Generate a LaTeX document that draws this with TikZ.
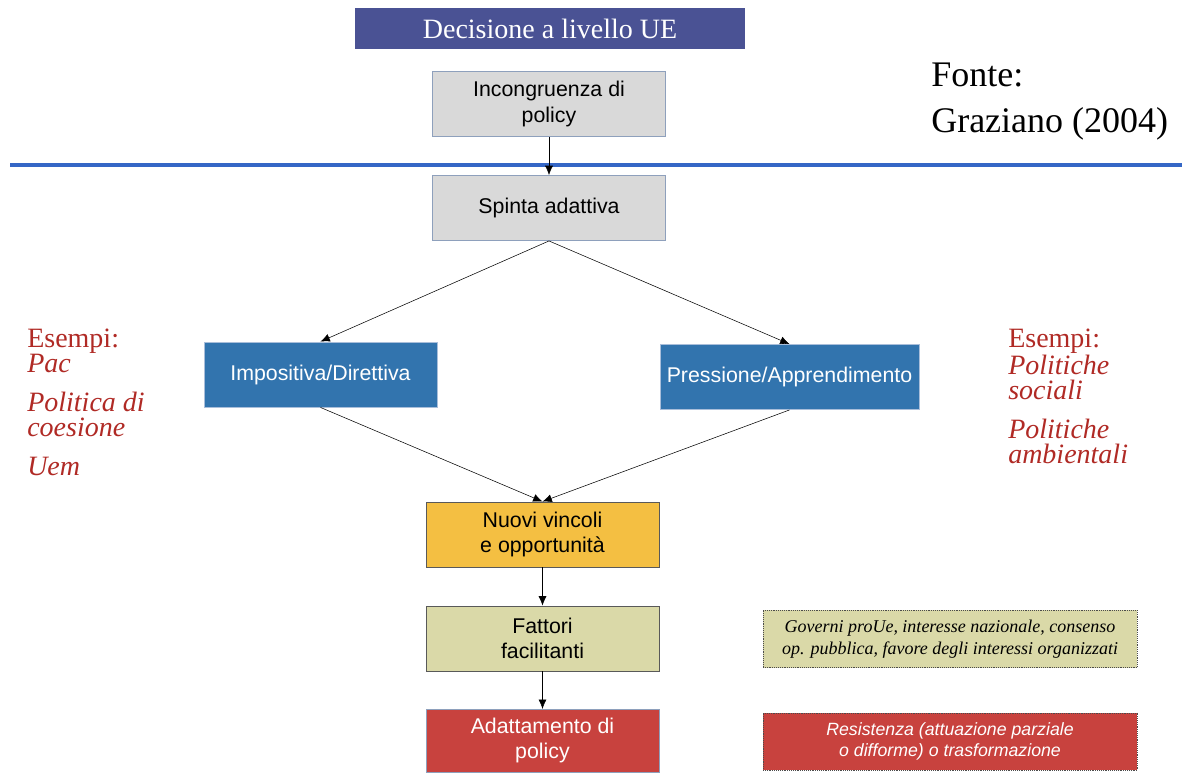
\documentclass[tikz,border=0pt]{standalone}
\usepackage{fontspec}
\setmainfont{Liberation Serif}
\setsansfont{Liberation Sans}
\usetikzlibrary{arrows.meta}

\definecolor{titleblue}{HTML}{4A5294}
\definecolor{boxgray}{HTML}{D9D9D9}
\definecolor{grayedge}{HTML}{8EA0BC}
\definecolor{boxblue}{HTML}{3274AE}
\definecolor{blueedge}{HTML}{A9BEDA}
\definecolor{boxorange}{HTML}{F4BF42}
\definecolor{boxolive}{HTML}{DAD9A8}
\definecolor{boxred}{HTML}{C8423E}
\definecolor{exred}{HTML}{B02A25}
\definecolor{rulerblue}{HTML}{3567C6}

\begin{document}
\begin{tikzpicture}[x=0.75pt,y=-0.75pt,
  box/.style={draw, rectangle, minimum width=175pt, minimum height=49pt,
    align=center, inner sep=2pt, font=\sffamily\fontsize{16}{19}\selectfont},
  graybox/.style={box, fill=boxgray, draw=grayedge},
  bluebox/.style={box, fill=boxblue, draw=blueedge, text=white},
  notebox/.style={draw=black!70, densely dotted, rectangle, minimum width=280.5pt,
    minimum height=43pt, align=center, inner sep=2pt},
  example/.style={anchor=north west, align=left, inner sep=0pt, text=exred,
    font=\fontsize{21}{18.5}\selectfont},
  link/.style={-{Latex[length=7pt,width=6pt]}, black}]
  \useasboundingbox (0,0) rectangle (1182,772);

  % Title and source
  \node[fill=titleblue, text=white, minimum width=292.5pt, minimum height=30.75pt,
    font=\fontsize{21}{23}\selectfont] (title) at (550,28.5) {Decisione a livello UE};
  \node[anchor=north west, align=left, inner sep=0pt,
    font=\fontsize{27}{34}\selectfont] (fonte) at (931,63) {Fonte:\\Graziano (2004)};

  % Level separator
  \coordinate (L) at (10,165);
  \coordinate (R) at (1182,165);
  \draw[rulerblue, line width=2.4pt] (L) -- (R);

  % Main chain
  \node[graybox] (incongr) at (549,104) {Incongruenza di\\policy};
  \node[graybox] (spinta) at (549,208) {Spinta adattiva};
  \node[bluebox] (impos) at (320.5,374.5) {Impositiva/Direttiva};
  \node[bluebox, minimum width=194pt] (press) at (789.5,377) {Pressione/Apprendimento};
  \node[box, fill=boxorange, draw=black!65] (nuovi) at (542.5,534.5) {Nuovi vincoli\\e opportunità};
  \node[box, fill=boxolive, draw=black!65] (fattori) at (542.5,638.5) {Fattori\\facilitanti};
  \node[box, fill=boxred, draw=grayedge, text=white, minimum height=47pt] (adatt) at (542.5,740.5) {Adattamento di\\policy};

  % Arrows
  \draw[link] (incongr) -- (spinta);
  \draw[link] (spinta.south) -- (impos.north);
  \draw[link] (spinta.south) -- (press.north);
  \draw[link] (impos.south) -- (nuovi.north);
  \draw[link] (press.south) -- (nuovi.north);
  \draw[link] (nuovi) -- (fattori);
  \draw[link] (fattori) -- (adatt);

  % Side notes
  \node[notebox, fill=boxolive, font=\itshape\fontsize{13.5}{16}\selectfont] (gov) at (950,639)
    {Governi proUe, interesse nazionale, consenso\\op. pubblica, favore degli interessi organizzati};
  \node[notebox, fill=boxred, text=white, font=\sffamily\itshape\fontsize{13.3}{16}\selectfont] (resist) at (950,741.5)
    {Resistenza (attuazione parziale\\o difforme) o trasformazione};

  % Examples
  \node[example] (exleft) at (27,329)
    {Esempi:\\\textit{Pac}\\[11pt]\textit{Politica di}\\\textit{coesione}\\[11pt]\textit{Uem}};
  \node[example] (exright) at (1008,329)
    {Esempi:\\\textit{Politiche}\\\textit{sociali}\\[11pt]\textit{Politiche}\\\textit{ambientali}};
\end{tikzpicture}
\end{document}
